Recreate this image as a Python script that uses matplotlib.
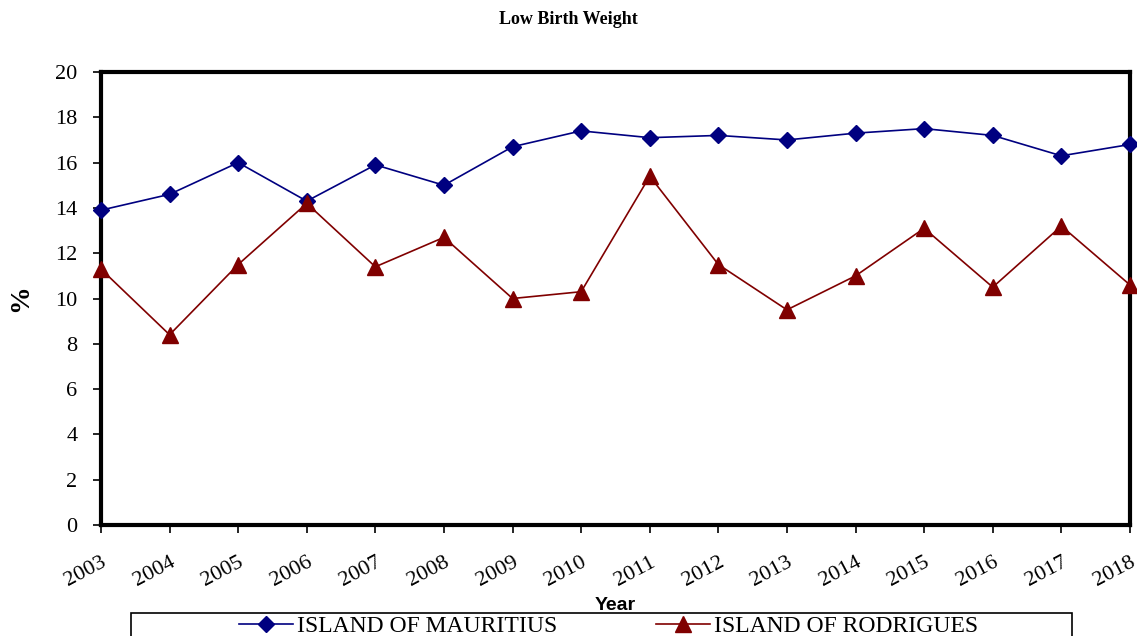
import matplotlib
matplotlib.use("Agg")
import matplotlib.pyplot as plt
from matplotlib.patches import Rectangle

years = list(range(2003, 2019))
mauritius = [13.9, 14.6, 16.0, 14.3, 15.9, 15.0, 16.7, 17.4, 17.1, 17.2, 17.0, 17.3, 17.5, 17.2, 16.3, 16.8]
rodrigues = [11.3, 8.4, 11.5, 14.2, 11.4, 12.7, 10.0, 10.3, 15.4, 11.5, 9.5, 11.0, 13.1, 10.5, 13.2, 10.6]

plt.rcParams['font.family'] = ['Liberation Serif', 'DejaVu Serif']

fig = plt.figure(figsize=(11.37, 6.36), dpi=100)
ax = fig.add_axes([0.0888, 0.1745, 0.905, 0.7123])

ax.plot(years, mauritius, color='#000080', marker='D', markersize=8, linewidth=1.2,
        label='ISLAND OF MAURITIUS', clip_on=False, zorder=3)
ax.plot(years, rodrigues, color='#800000', marker='^', markersize=11, linewidth=1.2,
        label='ISLAND OF RODRIGUES', clip_on=False, zorder=3)

ax.set_xlim(2003, 2018)
ax.set_ylim(0, 20)
ax.set_yticks(range(0, 21, 2))
ax.set_xticks(years)
ax.set_xticklabels([str(y) for y in years], rotation=28, ha='right', rotation_mode='anchor')
ax.tick_params(axis='both', labelsize=16, direction='out', length=6, width=1.2)
ax.tick_params(axis='x', pad=14)
ax.tick_params(axis='y', pad=11)
for s in ax.spines.values():
    s.set_linewidth(3)

ax.set_ylabel('%', fontsize=20, fontweight='bold')
ax.yaxis.set_label_coords(-0.066, 0.5)
ax.set_xlabel('Year', fontsize=14, fontweight='bold', family='Liberation Sans', labelpad=5)
fig.text(0.5, 0.97, 'Low Birth Weight', ha='center', va='center', fontsize=13, fontweight='bold')

# legend box at the bottom, partly cut off like the reference
fig.patches.append(Rectangle((131 / 1137, -0.02), 941 / 1137, 0.056, transform=fig.transFigure,
                             facecolor='white', edgecolor='black', linewidth=1.2))
leg = fig.legend(loc='center', bbox_to_anchor=(0.535, 0.015), ncol=2, fontsize=17,
                 frameon=False, columnspacing=4.2, handlelength=2.3, handletextpad=0.15,
                 borderpad=0)

fig.savefig('out.png', dpi=100)
